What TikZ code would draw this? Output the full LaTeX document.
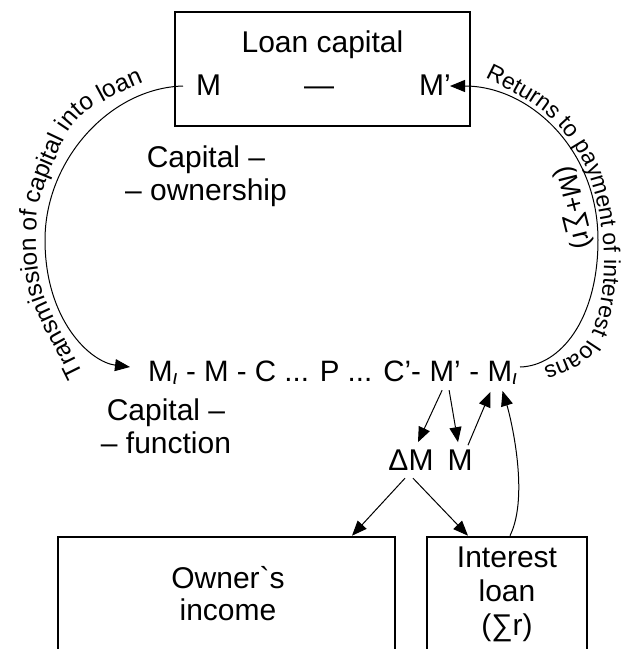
\documentclass[tikz,border=0pt]{standalone}
\usepackage{fontspec}
\newfontfamily\arial{Liberation Sans}
\setmainfont{Liberation Sans}
\usetikzlibrary{arrows.meta,decorations.text}
\begin{document}
\begin{tikzpicture}[x=1pt,y=-1pt,
  txt/.style={inner sep=0pt, font=\arial\fontsize{30}{33}\selectfont},
  box/.style={draw, line width=2.6pt, inner sep=0pt},
  conn/.style={line width=1pt},
  arr/.style={conn, -{Triangle[length=15pt,width=12pt]}},
  pathtext/.style 2 args={decorate, decoration={text along path, text align=left, raise=0pt,
     text={|\arial\fontsize{#2}{24}\selectfont|#1}}}
]
\useasboundingbox (0,0) rectangle (624,649);
\clip (0,0) rectangle (624,649);

% top box
\node[box, minimum width=295pt, minimum height=114pt] (lcbox) at (322.5,69) {};
\node[txt, anchor=base] (lctitle) at (322.5,52) {Loan capital};
\node[txt, anchor=base] (mtop) at (208.5,95) {M};
\node[txt, anchor=base] (dashtop) at (319,95) {—};
\node[txt, anchor=base] (mptop) at (435,95) {M’};

\node[txt, align=center, anchor=north] (own) at (206,146) {Capital –\\– ownership};
\node[txt, align=center, anchor=north] (fun) at (166,399) {Capital –\\– function};

% middle row
\tikzset{rowtxt/.style={txt, anchor=base west, font=\arial\fontsize{29.5}{33}\selectfont}}
\node[rowtxt] (row) at (148,381) {M\textsubscript{\textit{ι}} - M - C ... P ... C’-\ \null};
\node[rowtxt] (mp) at (row.base east) {M’};
\node[rowtxt] (dsh) at (mp.base east) {\ -\ \null};
\node[rowtxt] (ml2) at (dsh.base east) {M\textsubscript{\textit{ι}}};

\node[txt, anchor=base] (dm) at (411,470) {ΔM};
\node[txt, anchor=base] (m2) at (460,470) {M};

% bottom boxes
\node[box, minimum width=337pt, minimum height=140pt] (ob) at (226.5,607) {};
\node[box, minimum width=160pt, minimum height=140pt] (ib) at (507,607) {};
\node[txt, align=center, anchor=north, font=\arial\fontsize{30}{32}\selectfont] (obt) at (228,566) {Owner\char96 s\\income};
\node[txt, align=center, anchor=north, font=\arial\fontsize{30}{34}\selectfont] (ibt) at (507,547) {Interest\\loan\\(∑r)};

% curve coordinates
\coordinate (ls) at (183,86);
\coordinate (lc) at (45,240);
\coordinate (le) at (130,367);
\coordinate (rs) at (450,86);
\coordinate (rc) at (598,240);
\coordinate (re) at (520,367);

\draw[arr] (ls) .. controls (110,88) and (45,160) .. (lc) .. controls (45,320) and (90,362) .. (le);
\draw[arr] (re) .. controls (560,366) and (598,320) .. (rc) .. controls (598,150) and (530,86) .. (rs);

\path[pathtext={Transmission of capital into loan}{24.5}] plot[smooth, tension=0.6] coordinates
  {(83,374) (69,346) (55,320) (44,295) (38,270) (36,240) (38,210) (45,185) (55,160) (68,132) (85,113) (110,98) (130,88) (150,80) (175,74) (200,72) (230,70)};
\path[pathtext={Returns to payment of interest loans}{23}] plot[smooth, tension=0.6] coordinates
  {(485,78) (545,113) (585,165) (603,240) (600,305) (583,347) (545,367) (515,372) (490,374) (460,375)};

\node[rotate=-76, inner sep=0pt, font=\arial\fontsize{27}{27}\selectfont] (msr) at (573,208) {(M+∑r)};

% small arrows
\draw[arr] ([xshift=-3pt,yshift=-9pt]mp.south) -- ([xshift=7pt,yshift=7pt]dm.north);
\draw[arr] ([xshift=4pt,yshift=-9pt]mp.south) -- ([xshift=-2pt,yshift=7pt]m2.north);
\draw[arr] ([xshift=8pt,yshift=4pt]m2.north) -- ([xshift=3pt,yshift=-7pt]ml2.south west);
\draw[arr] ([xshift=3pt]ib.north) .. controls (530,495) and (510,415) .. ([xshift=0pt,yshift=-6pt]ml2.south);
\draw[arr] ([xshift=-6pt,yshift=-8pt]dm.south) -- ([xshift=125.5pt]ob.north);
\draw[arr] ([xshift=2pt,yshift=-8pt]dm.south) -- ([xshift=-39pt]ib.north);
\end{tikzpicture}
\end{document}
